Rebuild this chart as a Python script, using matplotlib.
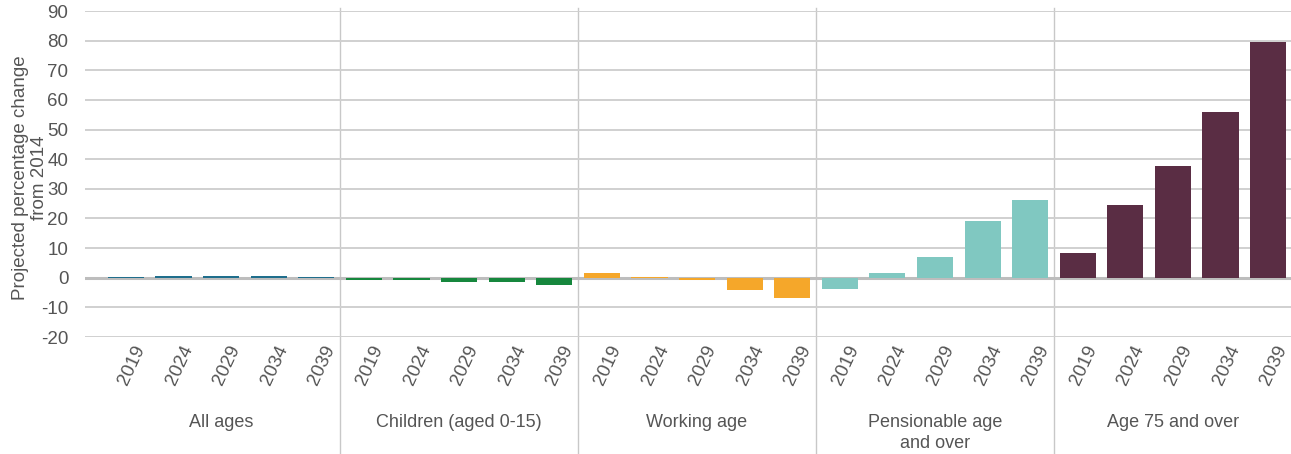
import numpy as np
import matplotlib
matplotlib.use("Agg")
from matplotlib import pyplot as plt
import matplotlib.transforms as mtransforms

plt.rcParams['font.family'] = ['Liberation Sans', 'DejaVu Sans']
plt.rcParams['axes.unicode_minus'] = False

years = ["2019", "2024", "2029", "2034", "2039"]
groups = ["All ages", "Children (aged 0-15)", "Working age",
          "Pensionable age\nand over", "Age 75 and over"]

all_ages = [0.2, 0.5, 0.7, 0.6, 0.4]
children = [-0.8, -0.8, -1.5, -1.3, -2.6]
working = [1.6, 0.3, -0.7, -4.3, -6.8]
pensionable = [-3.8, 1.6, 7.0, 19.0, 26.2]
age75 = [8.5, 24.4, 37.6, 56.0, 79.4]

colours = ["#1f6e8c", "#16873d", "#f5a72a", "#80c8c1", "#5a2d44"]
grey_text = "#555555"

series = [all_ages, children, working, pensionable, age75]

fig = plt.figure(figsize=(12.91, 4.54), dpi=100)
ax = fig.add_axes([85 / 1291, 1 - 337 / 454, 1 - 85 / 1291, (337 - 11) / 454])

x = np.arange(25)
values = np.concatenate(series)
bar_cols = np.repeat(colours, 5)
ax.bar(x, values, width=0.76, color=bar_cols, zorder=3)

ax.set_ylim(-20, 90)
ax.set_xlim(-0.86, 24.48)
ax.set_yticks(np.arange(-20, 91, 10))
ax.yaxis.grid(True, color="#d0d0d0", linewidth=1.4, zorder=0)
ax.axhline(0, color="#bdbdbd", linewidth=2.2, zorder=2)

for s in ax.spines.values():
    s.set_visible(False)
ax.tick_params(axis="both", length=0, colors=grey_text, labelsize=13.5)
ax.tick_params(axis="y", pad=12)

ax.set_xticks(x)
ax.set_xticklabels(years * 5, rotation=65, ha="right", va="top",
                   rotation_mode="anchor", fontsize=13.5)
ax.tick_params(axis="x", pad=4)
for lbl in ax.get_xticklabels():
    lbl.set_transform(lbl.get_transform() + mtransforms.ScaledTranslation(0.07, 0.0, fig.dpi_scale_trans))

# group separators running down through the labels
trans = mtransforms.blended_transform_factory(ax.transData, ax.transAxes)
for b in [4.5, 9.5, 14.5, 19.5]:
    ax.plot([b, b], [-0.37, 1.01], transform=trans, color="#c8c8c8",
            linewidth=1.0, clip_on=False, zorder=1)

for i, g in enumerate(groups):
    ax.text(i * 5 + 2, -0.235, g, transform=trans, ha="center", va="top",
            fontsize=13, color=grey_text, linespacing=1.35)

fig.text(30 / 1291, 1 - 178 / 454, "Projected percentage change\nfrom 2014",
         rotation=90, ha="center", va="center", fontsize=13.5,
         color=grey_text, linespacing=1.15)

fig.savefig("out.png", dpi=100)
